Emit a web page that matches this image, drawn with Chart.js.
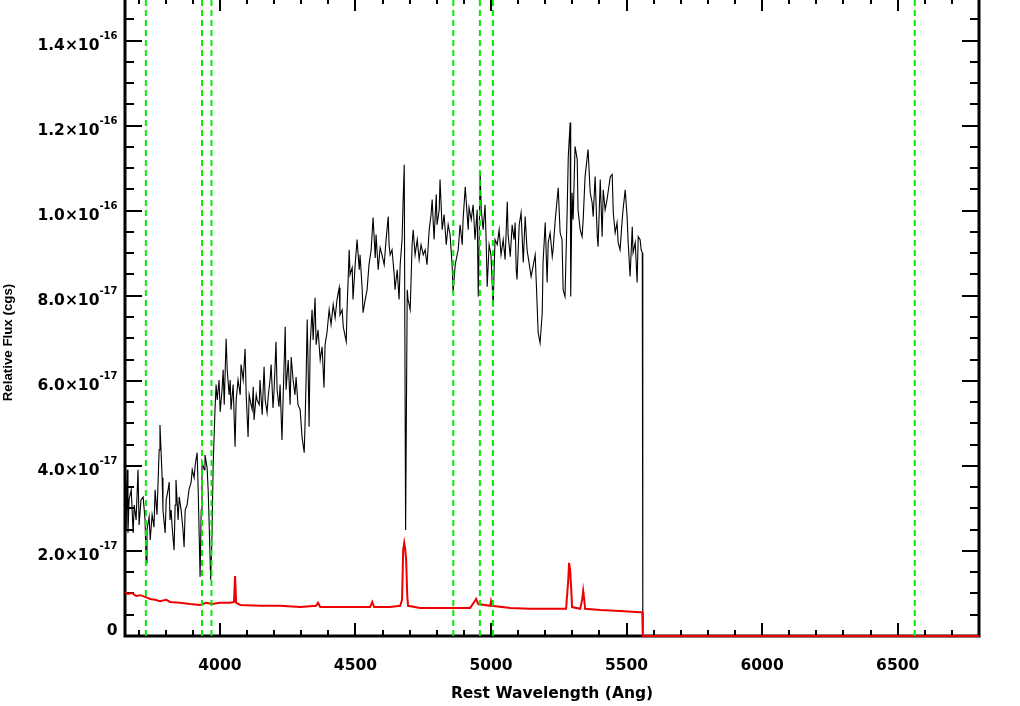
<!DOCTYPE html>
<html>
<head>
<meta charset="utf-8">
<title>Spectrum</title>
<script src="https://cdn.jsdelivr.net/npm/chart.js@4.4.1/dist/chart.umd.min.js"></script>
<style>
  html, body { margin: 0; padding: 0; background: #fff; overflow: hidden; }
  #wrap { position: absolute; left: 0; top: -2px; width: 1020px; height: 708px; }
</style>
</head>
<body>
<div id="wrap"><canvas id="spectrum" width="1020" height="708"></canvas></div>
<script>
// Rest wavelength (Ang) and flux (units of 1e-17 cgs)
const blackWave = [
  3650,3651,3654,3658,3661,3665,3673,3680,3684,3691,
  3698,3702,3709,3717,3724,3728,3731,3739,3743,3750,
  3757,3761,3768,3776,3779,3787,3790,3798,3802,3809,
  3813,3816,3820,3824,3831,3835,3838,3846,3850,3857,
  3864,3868,3872,3879,3886,3894,3898,3905,3909,3916,
  3920,3927,3931,3934,3942,3945,3953,3957,3960,3966,
  3971,3975,3982,3986,3990,3997,4001,4008,4012,4016,
  4023,4027,4034,4038,4041,4049,4056,4060,4067,4075,
  4078,4086,4093,4097,4104,4108,4115,4119,4123,4126,
  4134,4137,4145,4148,4156,4163,4167,4174,4178,4185,
  4189,4196,4200,4207,4211,4218,4222,4229,4233,4241,
  4244,4252,4259,4263,4270,4277,4281,4288,4296,4303,
  4311,4314,4318,4322,4325,4329,4333,4340,4344,4351,
  4355,4362,4370,4377,4384,4388,4395,4403,4410,4418,
  4425,4432,4440,4443,4451,4455,4466,4469,4477,4480,
  4488,4491,4499,4506,4514,4517,4525,4528,4536,4543,
  4550,4558,4565,4573,4576,4584,4591,4598,4606,4613,
  4621,4624,4628,4635,4643,4646,4654,4661,4665,4672,
  4676,4680,4685,4691,4694,4702,4709,4713,4720,4728,
  4735,4742,4750,4757,4764,4772,4779,4783,4790,4798,
  4801,4809,4812,4820,4827,4835,4842,4849,4857,4860,
  4868,4875,4879,4886,4894,4897,4905,4912,4916,4919,
  4927,4934,4941,4949,4953,4960,4964,4971,4978,4982,
  4986,4993,5000,5008,5012,5015,5023,5030,5037,5045,
  5052,5060,5063,5071,5078,5085,5089,5093,5096,5104,
  5111,5119,5126,5133,5148,5163,5167,5174,5181,5189,
  5192,5200,5207,5211,5218,5226,5229,5237,5248,5255,
  5262,5266,5273,5281,5285,5292,5294,5299,5303,5310,
  5318,5321,5329,5336,5340,5347,5358,5366,5373,5377,
  5384,5392,5395,5403,5410,5414,5421,5428,5440,5447,
  5451,5458,5465,5469,5476,5484,5487,5495,5502,5506,
  5513,5521,5524,5532,5539,5543,5550,5554,5558,5560,
  6800
];
const blackFlux = [
  3.67,4.21,2.49,3.91,2.42,3.20,3.44,2.42,3.08,2.73,
  3.91,2.61,3.20,3.27,2.73,1.72,2.49,2.80,2.26,2.85,
  2.56,3.44,2.85,4.38,4.96,3.72,2.96,2.42,3.20,3.44,
  3.62,2.73,2.96,2.56,2.02,3.08,3.67,2.73,3.27,2.96,
  2.49,2.09,2.96,3.08,3.44,3.62,3.91,3.72,4.02,4.31,
  3.44,1.39,2.96,4.09,3.91,4.26,3.95,3.39,2.73,1.32,
  2.38,3.98,5.32,5.91,5.55,6.02,5.27,5.79,6.26,5.44,
  6.99,6.26,5.67,6.02,5.32,5.91,4.45,5.55,6.02,5.67,
  6.38,6.02,6.75,5.67,4.68,5.67,5.44,5.32,5.86,5.08,
  5.67,5.55,5.44,6.02,5.20,6.33,5.55,5.25,5.62,6.02,
  6.38,5.36,5.79,6.92,5.79,5.39,5.91,4.61,5.55,7.27,
  5.79,6.49,5.44,6.56,6.02,5.67,6.09,5.44,5.32,4.68,
  4.31,4.96,6.02,7.44,6.49,4.92,6.85,7.67,6.96,7.95,
  6.85,7.20,6.49,6.80,5.84,6.85,7.13,7.67,7.32,7.79,
  7.48,7.91,8.19,7.55,7.67,7.27,6.92,7.67,9.08,8.49,
  8.66,7.91,8.73,9.32,8.61,8.96,8.14,7.60,7.91,8.14,
  8.73,9.08,9.84,8.89,9.44,8.61,9.13,8.96,8.73,9.32,
  9.86,9.20,8.96,9.08,8.49,8.14,8.61,7.91,8.73,9.32,
  10.26,11.08,2.49,8.14,7.91,7.67,9.20,9.55,8.96,9.32,
  8.85,9.20,8.96,9.08,8.73,9.55,9.91,10.26,9.32,10.38,
  9.67,10.02,10.73,9.55,9.91,9.20,9.67,9.44,8.68,8.07,
  8.73,8.96,9.08,9.67,9.20,9.79,10.56,9.91,9.55,10.07,
  9.79,10.14,9.32,10.02,7.98,10.89,10.02,9.55,10.14,9.32,
  8.21,9.20,8.96,7.74,8.73,9.32,9.20,9.55,8.96,9.32,
  8.85,10.21,9.44,8.92,9.67,9.32,9.72,8.61,8.38,9.67,
  9.95,8.78,9.86,9.08,8.45,8.96,8.31,7.13,6.89,7.60,
  8.78,9.72,8.31,9.25,9.48,8.92,9.08,9.79,10.54,9.48,
  9.32,8.14,7.98,10.02,11.27,12.07,7.98,10.42,9.79,11.51,
  11.20,10.02,9.55,9.39,9.79,10.80,11.44,10.42,10.19,9.86,
  10.80,9.39,9.15,10.73,9.39,10.49,10.02,10.26,10.80,10.85,
  9.95,9.48,9.72,9.25,9.08,9.79,10.02,10.49,9.86,9.25,
  8.45,9.62,9.01,9.25,8.31,9.39,9.32,9.08,9.01,0,
  0
];
const redWave = [
  3650,3661,3676,3691,3706,3724,3743,3761,3779,3802,
  3816,3853,3890,3927,3949,3971,4001,4038,4052,4056,
  4060,4075,4148,4222,4296,4355,4362,4370,4443,4517,
  4554,4562,4569,4628,4665,4672,4676,4680,4683,4687,
  4691,4694,4739,4812,4886,4923,4938,4945,4953,4997,
  5000,5004,5071,5144,5218,5277,5285,5288,5292,5296,
  5299,5329,5336,5340,5344,5347,5403,5476,5550,5558,
  5560,6800
];
const redFlux = [
  1.04,0.99,1.01,0.94,0.96,0.92,0.87,0.85,0.82,0.85,
  0.80,0.78,0.75,0.73,0.78,0.75,0.78,0.78,0.80,1.41,
  0.78,0.73,0.71,0.71,0.68,0.71,0.78,0.68,0.68,0.68,
  0.68,0.80,0.68,0.68,0.71,0.85,2.02,2.19,2.07,1.79,
  0.96,0.71,0.66,0.66,0.66,0.66,0.80,0.87,0.75,0.71,
  0.82,0.71,0.66,0.64,0.64,0.64,1.32,1.72,1.55,1.08,
  0.68,0.64,0.85,1.06,0.85,0.64,0.61,0.59,0.56,0.56,
  0,0
];
// marked lines: [OII], Ca K, Ca H, Hbeta, [OIII] x2, Halpha
const lineWaves = [3727, 3934, 3969, 4861, 4959, 5007, 6563];

const xTickValues = [4000, 4500, 5000, 5500, 6000, 6500];
const yMajorValues = [0, 2, 4, 6, 8, 10, 12, 14];
const yTickMant = ['0', '2.0\u00d710', '4.0\u00d710', '6.0\u00d710', '8.0\u00d710', '1.0\u00d710', '1.2\u00d710', '1.4\u00d710'];
const yTickExp = ['', '-17', '-17', '-17', '-17', '-16', '-16', '-16'];
const yTitle = 'Relative Flux (cgs)';

const X_MIN = 3650, X_MAX = 6800, Y_MAX = 15;
const FONT = 'DejaVu Sans';

const toPoints = (xs, ys) => xs.map((x, i) => ({ x: x, y: ys[i] }));

// IDL-like frame: ticks pointing inward on all four sides, labels with superscripts
const idlAxes = {
  id: 'idlAxes',
  beforeDatasetsDraw(chart) {
    const { ctx, chartArea: a, scales } = chart;
    const xs = scales.x, ys = scales.y;
    ctx.save();
    ctx.strokeStyle = '#000';
    ctx.lineWidth = 2;
    ctx.beginPath();
    for (let v = 3700; v <= X_MAX; v += 100) {
      const px = Math.round(xs.getPixelForValue(v));
      const len = v % 500 === 0 ? 13 : 6;
      ctx.moveTo(px, a.bottom); ctx.lineTo(px, a.bottom - len);
      ctx.moveTo(px, a.top); ctx.lineTo(px, a.top + len);
    }
    for (let v = 0; v <= Y_MAX; v += 0.5) {
      const py = Math.round(ys.getPixelForValue(v));
      const len = v % 2 === 0 ? 17 : 9;
      ctx.moveTo(a.left, py); ctx.lineTo(a.left + len, py);
      ctx.moveTo(a.right, py); ctx.lineTo(a.right - len, py);
    }
    ctx.stroke();
    ctx.lineWidth = 3;
    ctx.strokeRect(a.left, a.top, a.right - a.left, a.bottom - a.top);

    ctx.fillStyle = '#000';
    ctx.textAlign = 'right';
    ctx.textBaseline = 'alphabetic';
    const rightEdge = 117.5;
    yMajorValues.forEach((v, i) => {
      const py = ys.getPixelForValue(v);
      const exp = yTickExp[i];
      let ew = 0;
      if (exp) {
        ctx.font = 'bold 10px "' + FONT + '"';
        ew = ctx.measureText(exp).width;
        ctx.fillText(exp, rightEdge, py - 2);
      }
      ctx.font = 'bold 15.5px "' + FONT + '"';
      ctx.fillText(yTickMant[i], rightEdge - ew, exp ? py + 9.5 : py - 1);
    });

    // y title, rotated, sits a little below the middle of the axis
    ctx.translate(8.5, ys.getPixelForValue(6.9));
    ctx.rotate(-Math.PI / 2);
    ctx.textAlign = 'center';
    ctx.textBaseline = 'middle';
    ctx.font = 'bold 13.3px "Liberation Sans"';
    ctx.fillText(yTitle, 0, 0);
    ctx.restore();
  }
};

const lineSets = lineWaves.map((w) => ({
  data: [{ x: w, y: 0 }, { x: w, y: Y_MAX }],
  borderColor: '#00ee00',
  borderWidth: 2,
  borderDash: [6, 4],
  order: 0,
}));

new Chart(document.getElementById('spectrum'), {
  type: 'line',
  data: {
    datasets: [
      ...lineSets,
      {
        data: toPoints(redWave, redFlux),
        borderColor: '#ee0000',
        borderWidth: 2,
        clip: false,
        order: 1,
      },
      {
        data: toPoints(blackWave, blackFlux),
        borderColor: '#000',
        borderWidth: 1.1,
        order: 2,
      },
    ],
  },
  options: {
    responsive: false,
    animation: false,
    events: [],
    layout: { padding: { left: 0, right: 41, top: 0, bottom: 0 } },
    elements: { point: { radius: 0 }, line: { tension: 0 } },
    plugins: { legend: { display: false }, tooltip: { enabled: false } },
    scales: {
      x: {
        type: 'linear',
        min: X_MIN,
        max: X_MAX,
        grid: { display: false, drawTicks: false },
        border: { display: false },
        afterBuildTicks: (s) => { s.ticks = xTickValues.map((v) => ({ value: v })); },
        ticks: {
          maxRotation: 0,
          autoSkip: false,
          padding: 21,
          color: '#000',
          font: { family: FONT, weight: 'bold', size: 15.5 },
          callback: (v) => String(v),
        },
        title: {
          display: true,
          text: 'Rest Wavelength (Ang)',
          color: '#000',
          font: { family: FONT, weight: 'bold', size: 15.5 },
          padding: { top: 0, bottom: 3 },
        },
        afterFit: (s) => { s.height = 70; },
      },
      y: {
        type: 'linear',
        min: 0,
        max: Y_MAX,
        grid: { display: false },
        border: { display: false },
        ticks: { display: false },
        afterFit: (s) => { s.width = 125; },
      },
    },
  },
  plugins: [idlAxes],
});
</script>
</body>
</html>
